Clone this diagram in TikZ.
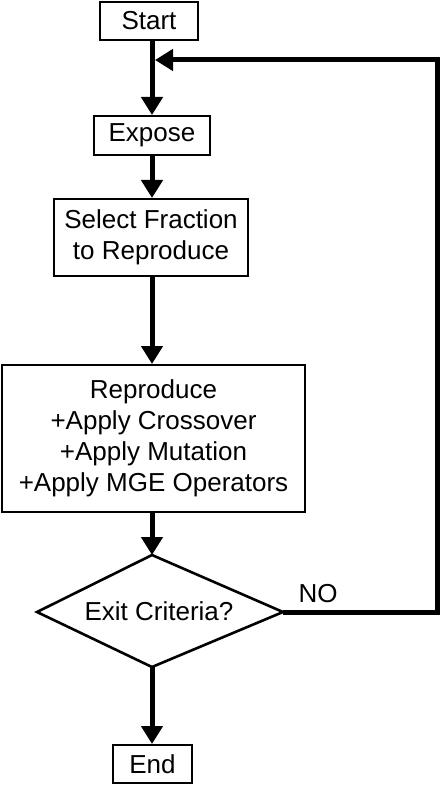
\documentclass[tikz,border=0pt]{standalone}
\usepackage{fontspec}
\setmainfont{Liberation Sans}
\usetikzlibrary{arrows.meta}
\begin{document}
\begin{tikzpicture}[x=1pt,y=1pt,
  box/.style={draw,line width=2pt,inner sep=0pt,align=center,font=\fontsize{26}{31}\selectfont},
  flow/.style={line width=5pt,line join=miter,-{Triangle[length=18pt,width=21pt]}},
  lbl/.style={font=\fontsize{26}{31}\selectfont,inner sep=0pt},
  dia/.style={line width=2.6pt,line join=miter}]
\useasboundingbox (0,0) rectangle (442,-786);
\node[box,minimum width=98pt,minimum height=38pt] (start) at (149,-21) {Start};
\node[box,minimum width=116pt,minimum height=39pt] (expose) at (152,-135.5) {Expose};
\node[box,minimum width=194pt,minimum height=77pt] (select) at (151,-237.5) {Select Fraction\\to Reproduce};
\node[box,minimum width=303pt,minimum height=147pt] (repro) at (153.5,-438.5) {Reproduce\\+Apply Crossover\\+Apply Mutation\\+Apply MGE Operators};
\coordinate (dT) at (152,-555);
\coordinate (dR) at (283,-612);
\coordinate (dB) at (152,-667);
\coordinate (dL) at (37,-612);
\draw[dia] (dT) -- (dR) -- (dB) -- (dL) -- cycle;
\node[lbl] (exit) at (159,-611) {Exit Criteria?};
\node[lbl] (no) at (318,-594) {NO};
\node[box,minimum width=79pt,minimum height=38pt] (end) at (152.5,-764) {End};
\coordinate (join) at (152,-60);
\coordinate (joinR) at (155,-60);
\coordinate (c1) at (437.5,-612);
\coordinate (c2) at (437.5,-60);
\draw[flow] (start.south -| join) -- (expose.north -| join);
\draw[flow] (expose.south -| join) -- (select.north -| join);
\draw[flow] (select.south -| join) -- (repro.north -| join);
\draw[flow] (repro.south -| join) -- (dT);
\draw[flow] (dB) -- (end.north -| join);
\draw[flow] (dR) -- (c1) -- (c2) -- (joinR);
\end{tikzpicture}
\end{document}
